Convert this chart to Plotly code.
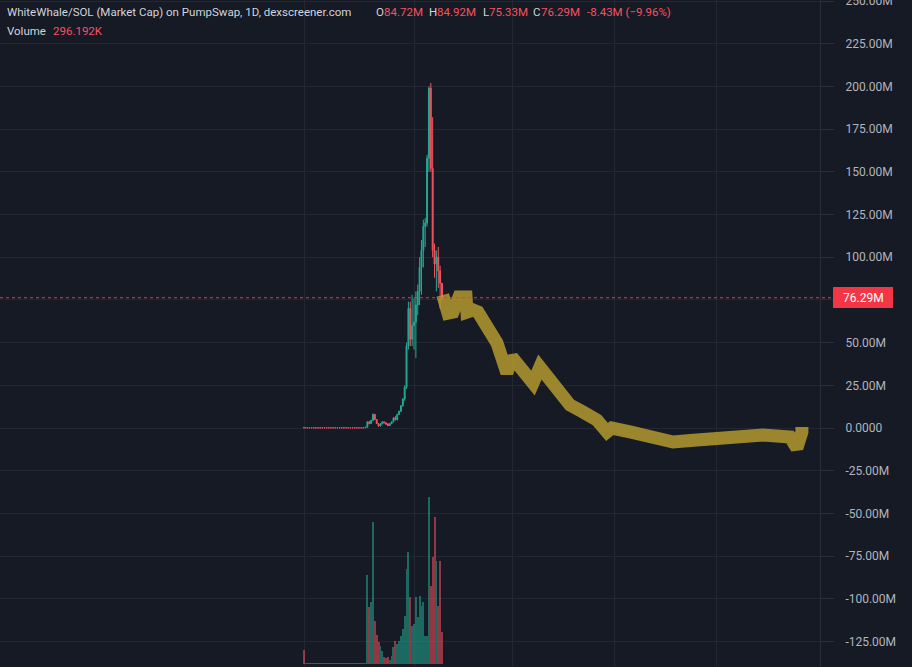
import plotly.graph_objects as go

# ---------------- data ----------------
# daily candles (market cap, millions)
days = list(range(75))
opens = [0.40, 0.13, 0.13, 0.12, 0.13, 0.13, 0.12, 0.13, 0.13, 0.12,
         0.13, 0.13, 0.12, 0.13, 0.13, 0.12, 0.13, 0.13, 0.12, 0.13,
         0.13, 0.12, 0.13, 0.13, 0.12, 0.13, 0.13, 0.12, 0.13, 0.13,
         0.12, 0.13, 0.13, 0.12,
         0.5, 3.6, 2.6, 4.5, 8.0, 5.0, 2.6, 1.2, 2.4, 3.6,
         3.0, 2.4, 1.4, 2.6, 3.6, 6.0, 4.8, 8.0, 9.8, 13.0,
         17.0, 24.0, 48.0, 70.0, 52.0, 60.0, 62.0, 72.0, 80.0, 94.0,
         104.0, 118.0, 120.0, 158.0, 199.0, 152.0, 104.0, 96.0, 100.0, 92.0,
         84.72]
highs = [0.45, 0.14, 0.14, 0.13, 0.14, 0.14, 0.13, 0.14, 0.14, 0.13,
         0.14, 0.14, 0.13, 0.14, 0.14, 0.13, 0.14, 0.14, 0.13, 0.14,
         0.14, 0.13, 0.14, 0.14, 0.13, 0.14, 0.14, 0.13, 0.14, 0.14,
         0.13, 0.14, 0.14, 0.13,
         4.0, 4.2, 4.8, 8.6, 8.2, 5.2, 2.8, 2.8, 4.0, 4.0,
         3.4, 2.8, 2.8, 3.8, 6.2, 7.0, 8.4, 10.2, 13.4, 17.4,
         25.0, 50.0, 74.0, 74.0, 78.0, 76.0, 80.0, 84.0, 100.0, 110.0,
         122.0, 123.0, 160.0, 200.0, 202.0, 182.0, 108.0, 104.0, 106.0, 95.0,
         84.92]
lows = [0.10, 0.10, 0.10, 0.09, 0.10, 0.10, 0.09, 0.10, 0.10, 0.09,
        0.10, 0.10, 0.09, 0.10, 0.10, 0.09, 0.10, 0.10, 0.09, 0.10,
        0.10, 0.09, 0.10, 0.10, 0.09, 0.10, 0.10, 0.09, 0.10, 0.10,
        0.09, 0.10, 0.10, 0.09,
        0.3, 2.2, 2.4, 4.2, 4.6, 2.4, 0.8, 1.0, 2.2, 2.8,
        1.8, 1.2, 1.2, 2.4, 3.4, 4.6, 4.6, 7.6, 9.4, 12.6,
        16.0, 23.0, 46.0, 48.0, 48.0, 46.0, 41.0, 66.0, 72.0, 78.0,
        94.0, 106.0, 118.0, 150.0, 150.0, 100.0, 88.0, 80.0, 82.0, 70.0,
        75.33]
closes = [0.13, 0.11, 0.12, 0.11, 0.11, 0.12, 0.11, 0.11, 0.12, 0.11,
          0.11, 0.12, 0.11, 0.11, 0.12, 0.11, 0.11, 0.12, 0.11, 0.11,
          0.12, 0.11, 0.11, 0.12, 0.11, 0.11, 0.12, 0.11, 0.11, 0.12,
          0.11, 0.11, 0.12, 0.5,
          3.6, 2.6, 4.5, 8.0, 5.0, 2.6, 1.2, 2.4, 3.6, 3.0,
          2.4, 1.4, 2.6, 3.6, 6.0, 4.8, 8.0, 9.8, 13.0, 17.0,
          24.0, 48.0, 70.0, 52.0, 60.0, 62.0, 72.0, 80.0, 94.0, 104.0,
          118.0, 120.0, 158.0, 199.0, 152.0, 104.0, 96.0, 100.0, 92.0, 84.72,
          76.29]
# daily volume (thousands)
volumes = [130, 9, 9, 9, 9, 9, 9, 9, 9, 9,
           9, 9, 9, 9, 9, 9, 9, 9, 9, 9,
           9, 9, 9, 9, 9, 9, 9, 9, 9, 9,
           9, 9, 9, 9,
           824, 528, 574, 1315, 398, 269, 204, 167, 120, 65,
           56, 65, 37, 74, 157, 213, 185, 213, 259, 324,
           444, 880, 1037, 620, 352, 370, 620, 435, 630, 537,
           574, 259, 259, 1546, 722, 991, 1361, 954, 537, 954,
           296.192]

# header values
change_abs = -8.43
change_pct = -9.96

# hand-drawn trend annotation (day, market cap in millions)
sketch_days = [74.4, 77.2, 79.9, 83.1, 86.9, 87.4, 90.6, 93.3, 103.5, 108.8,
               111.5, 122.8, 126.5, 131.9, 135.7, 142.6, 149.6, 157.1, 162.5, 165.1,
               174.8, 189.3, 197.9, 210.7, 228.4, 246.1, 260.6, 264.3, 267.0, 267.0]
sketch_vals = [77.9, 67.3, 67.9, 76.7, 76.7, 67.9, 69.1, 67.9, 49.8, 32.2,
               41.6, 26.3, 35.7, 28.1, 22.2, 13.5, 9.4, 4.7, -2.3, 0.0,
               -2.3, -5.3, -8.2, -7.0, -5.3, -4.1, -5.3, -11.7, -2.3, 0.6]

y_ticks = [-125, -100, -75, -50, -25, 0, 25, 50, 75, 100, 125, 150, 175, 200, 225, 250]
y_ticktext = ["-125.00M", "-100.00M", "-75.00M", "-50.00M", "-25.00M", "0.0000",
              "25.00M", "50.00M", "", "100.00M", "125.00M", "150.00M",
              "175.00M", "200.00M", "225.00M", "250.00M"]
x_grid = [0.5, 59.5, 112.0, 166.5, 221.0]

last_close = closes[-1]
header_title = "WhiteWhale/SOL (Market Cap) on PumpSwap, 1D, dexscreener.com"

# ---------------- styling ----------------
BG = "#161a25"
GRID = "#232733"
UP = "#22ab94"
DOWN = "#f7525f"
TXT = "#d1d4dc"
AX = "#b2b5be"
W, H = 912, 667
PLOT_W = 820

vol_colors = [UP if c >= o else DOWN for o, c in zip(opens, closes)]

fig = go.Figure()
fig.add_trace(go.Bar(
    x=days, y=volumes, yaxis="y2", marker=dict(color=vol_colors, line_width=0),
    opacity=0.55, width=0.55, showlegend=False, hoverinfo="skip"))
fig.add_trace(go.Candlestick(
    x=days, open=opens, high=highs, low=lows, close=closes,
    increasing=dict(line=dict(color=UP, width=1), fillcolor=UP),
    decreasing=dict(line=dict(color=DOWN, width=1), fillcolor=DOWN),
    whiskerwidth=0, showlegend=False, hoverinfo="skip"))
fig.add_trace(go.Scatter(
    x=sketch_days, y=sketch_vals, mode="lines",
    line=dict(color="rgba(184,158,48,0.82)", width=13),
    showlegend=False, hoverinfo="skip"))

fig.update_layout(
    width=W, height=H,
    margin=dict(l=0, r=W - PLOT_W, t=0, b=0, autoexpand=False),
    paper_bgcolor=BG, plot_bgcolor=BG,
    bargap=0.4,
    xaxis=dict(range=[-163, 276.7], tickvals=x_grid, showticklabels=False,
               showgrid=True, gridcolor=GRID, gridwidth=1, zeroline=False,
               showline=False, ticks="", rangeslider=dict(visible=False),
               fixedrange=True, automargin=False),
    yaxis=dict(range=[-139.9, 250.6], side="right", tickvals=y_ticks,
               ticktext=y_ticktext, showgrid=True, gridcolor=GRID, gridwidth=1,
               zeroline=False, ticks="outside", ticklen=13, tickcolor="#2a2e39",
               showline=True, linecolor="#2a2e39", linewidth=1,
               tickfont=dict(family="Roboto", size=12, color=AX),
               ticklabelstandoff=9, ticklabeloverflow="allow", automargin=False),
    yaxis2=dict(overlaying="y", range=[-27.8, 6146], visible=False,
                fixedrange=True, automargin=False),
    font=dict(family="Roboto"),
)

# last price dotted line and label
fig.add_shape(type="line", xref="paper", yref="y", x0=0, x1=833 / PLOT_W,
              y0=last_close, y1=last_close,
              line=dict(color="#f23645", width=1, dash="dot"))
fig.add_shape(type="rect", xref="paper", yref="paper",
              x0=833 / PLOT_W, x1=893 / PLOT_W, y0=1 - 308 / H, y1=1 - 287 / H,
              fillcolor="#f23645", line_width=0, layer="above")
fig.add_annotation(xref="paper", yref="y", x=863 / PLOT_W, y=last_close,
                   text=f"{last_close:.2f}M", showarrow=False, xanchor="center",
                   yanchor="middle", font=dict(family="Roboto", size=12, color="#ffffff"))

# header legend
def head(px, py, text, color, size=11.5):
    fig.add_annotation(xref="paper", yref="paper", x=px / PLOT_W, y=1 - py / H,
                       text=text, showarrow=False, xanchor="left", yanchor="middle",
                       font=dict(family="Roboto", size=size, color=color))

o, hi, lo, c = opens[-1], highs[-1], lows[-1], closes[-1]
head(5, 12, header_title, TXT)
head(374, 12, "O", TXT)
head(382, 12, f"{o:.2f}M", DOWN)
head(427, 12, "H", TXT)
head(435, 12, f"{hi:.2f}M", DOWN)
head(481, 12, "L", TXT)
head(487, 12, f"{lo:.2f}M", DOWN)
head(531, 12, "C", TXT)
head(539, 12, f"{c:.2f}M", DOWN)
head(585, 12, f"{change_abs:.2f}M (\u2212{abs(change_pct):.2f}%)", DOWN)
head(5, 31, "Volume", TXT)
head(51, 31, f"{volumes[-1]:.3f}K", DOWN)

fig.write_html("out.html", config={"displayModeBar": False},
               post_script="document.body.style.margin='0';")
